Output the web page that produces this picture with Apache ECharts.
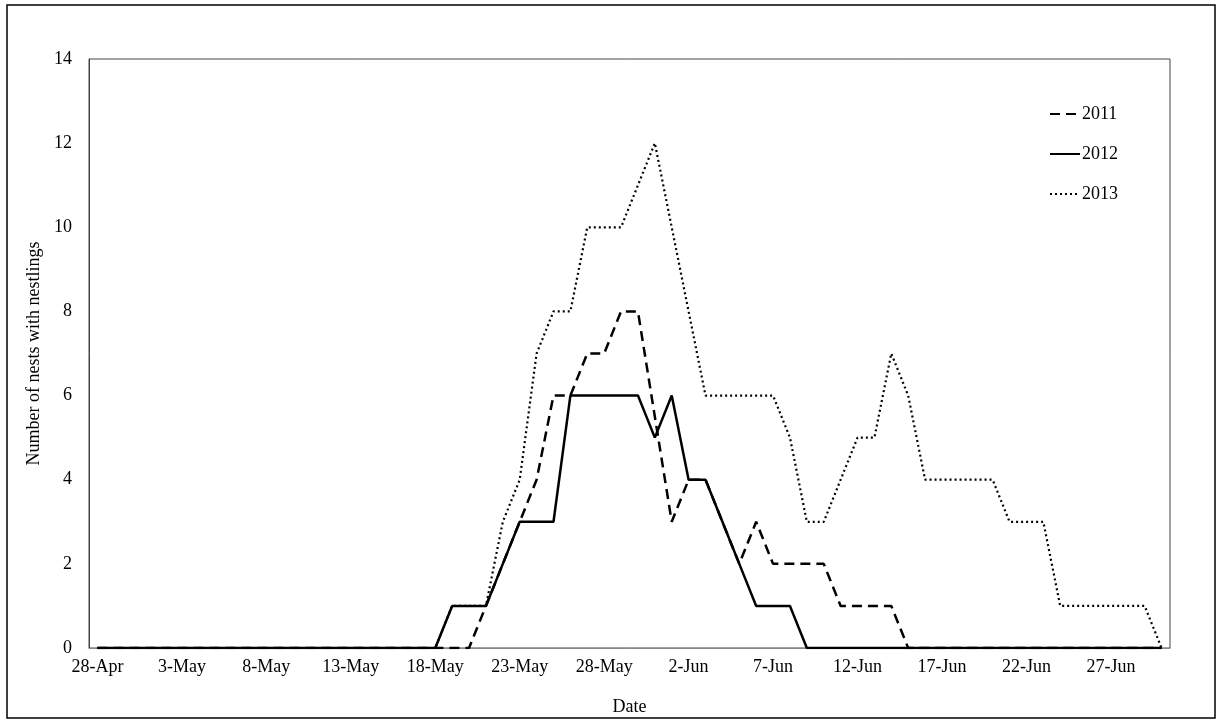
<!DOCTYPE html>
<html>
<head>
<meta charset="utf-8">
<script src="https://cdn.jsdelivr.net/npm/echarts@6/dist/echarts.min.js"></script>
<style>
  html, body { margin: 0; padding: 0; background: #fff; }
  #main { width: 1221px; height: 725px; }
</style>
</head>
<body>
<div id="main"></div>
<script>
// days 28-Apr .. 30-Jun
var dates = [
  '28-Apr','29-Apr','30-Apr',
  '1-May','2-May','3-May','4-May','5-May','6-May','7-May','8-May','9-May','10-May',
  '11-May','12-May','13-May','14-May','15-May','16-May','17-May','18-May','19-May','20-May',
  '21-May','22-May','23-May','24-May','25-May','26-May','27-May','28-May','29-May','30-May','31-May',
  '1-Jun','2-Jun','3-Jun','4-Jun','5-Jun','6-Jun','7-Jun','8-Jun','9-Jun','10-Jun',
  '11-Jun','12-Jun','13-Jun','14-Jun','15-Jun','16-Jun','17-Jun','18-Jun','19-Jun','20-Jun',
  '21-Jun','22-Jun','23-Jun','24-Jun','25-Jun','26-Jun','27-Jun','28-Jun','29-Jun','30-Jun'
];

// number of nests with nestlings per day
var y2011 = [
  0,0,0,0,0,0,0,0,0,0,
  0,0,0,0,0,0,0,0,0,0,
  0,0,0,1,2,3,4,6,6,7,
  7,8,8,null,3,4,4,3,2,3,
  2,2,2,2,1,1,1,1,0,0,
  0,0,0,0,0,0,0,0,0,0,
  0,0,0,0
];
var y2012 = [
  0,0,0,0,0,0,0,0,0,0,
  0,0,0,0,0,0,0,0,0,0,
  0,1,1,1,2,3,3,3,6,6,
  6,6,6,5,6,4,4,3,2,1,
  1,1,0,0,0,0,0,0,0,0,
  0,0,0,0,0,0,0,0,0,0,
  0,0,0,0
];
var y2013 = [
  0,0,0,0,0,0,0,0,0,0,
  0,0,0,0,0,0,0,0,0,0,
  0,1,1,1,3,4,7,8,8,10,
  10,10,11,12,10,8,6,6,6,6,
  6,5,3,3,4,5,5,7,6,4,
  4,4,4,4,3,3,3,1,1,1,
  1,1,1,0
];

var font = '"Liberation Serif", "Times New Roman", serif';

var chart = echarts.init(document.getElementById('main'));

function lineSeries(name, data, type, width) {
  return {
    name: name,
    type: 'line',
    data: data,
    symbol: 'none',
    connectNulls: true,
    animation: false,
    lineStyle: { color: '#000', width: width, type: type },
    itemStyle: { color: '#000' }
  };
}

var option = {
  backgroundColor: '#fff',
  graphic: [{
    type: 'rect',
    shape: { x: 7, y: 5, width: 1208, height: 713 },
    style: { fill: 'none', stroke: '#000', lineWidth: 1.5 },
    silent: true
  }],
  grid: {
    left: 89, right: 51, top: 59, bottom: 77,
    show: true, borderColor: '#444', borderWidth: 1
  },
  legend: {
    orient: 'vertical',
    right: 98,
    top: 100,
    itemWidth: 30,
    itemHeight: 14,
    itemGap: 22,
    itemStyle: { opacity: 0 },
    textStyle: { fontFamily: font, fontSize: 18, color: '#000', padding: [0, 0, 0, -3] },
    data: ['2011', '2012', '2013']
  },
  xAxis: {
    type: 'category',
    data: dates,
    boundaryGap: true,
    name: 'Date',
    nameLocation: 'middle',
    nameGap: 50,
    nameTextStyle: { fontFamily: font, fontSize: 18, color: '#000' },
    axisLine: { lineStyle: { color: '#888', width: 1 } },
    axisTick: { show: false },
    axisLabel: { interval: 4, fontFamily: font, fontSize: 18, color: '#000', margin: 10 },
    splitLine: { show: false }
  },
  yAxis: {
    type: 'value',
    min: 0, max: 14, interval: 2,
    name: 'Number of nests with nestlings',
    nameLocation: 'middle',
    nameRotate: 90,
    nameGap: 42,
    nameTextStyle: { fontFamily: font, fontSize: 18, color: '#000' },
    axisLine: { show: true, lineStyle: { color: '#444', width: 1 } },
    axisTick: { show: false },
    axisLabel: { fontFamily: font, fontSize: 18, color: '#000', margin: 17 },
    splitLine: { show: false }
  },
  series: [
    lineSeries('2011', y2011, [10, 6], 2.5),
    lineSeries('2012', y2012, 'solid', 2.5),
    lineSeries('2013', y2013, [2, 3], 2.2)
  ]
};

chart.setOption(option);
</script>
</body>
</html>
